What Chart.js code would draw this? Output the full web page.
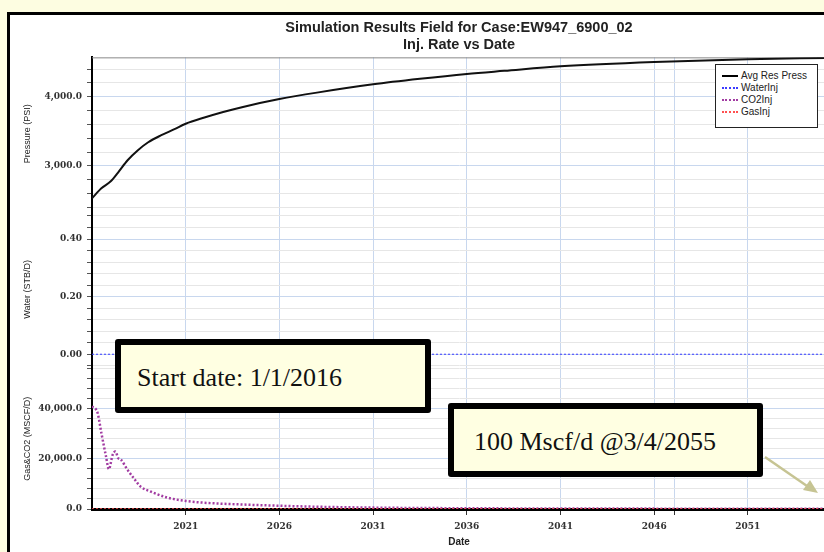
<!DOCTYPE html>
<html>
<head>
<meta charset="utf-8">
<script src="https://cdn.jsdelivr.net/npm/chart.js@4.4.0/dist/chart.umd.min.js"></script>
<style>
  html, body { margin: 0; padding: 0; width: 824px; height: 552px; overflow: hidden; background: #fdfde1; }
  #frame { position: absolute; left: 7px; top: 12px; width: 900px; height: 600px; border: 3px solid #000; background: #fff; }
  #chart { position: absolute; left: 0; top: 0; }
  .note { position: absolute; box-sizing: border-box; border: 6px solid #000; border-radius: 3px;
          background: #ffffe2; font: 26px "Liberation Serif", serif; color: #111; white-space: nowrap; }
  #legend { position: absolute; left: 715px; top: 64px; width: 103px; height: 64px; box-sizing: border-box;
            border: 1.5px solid #222; background: #fff; padding-top: 5px; font: 10px "Liberation Sans", sans-serif; color: #222; }
  #legend div { height: 12px; line-height: 12px; white-space: nowrap; }
  #legend span { display: inline-block; width: 16px; margin: 0 3px 0 6px; vertical-align: middle; }
  #arrow { position: absolute; left: 0; top: 0; }
</style>
</head>
<body>
<div id="frame"></div>
<canvas id="chart" width="826" height="552"></canvas>

<div id="legend">
  <div><span style="border-top:2px solid #000"></span>Avg Res Press</div>
  <div><span style="border-top:2px dotted #3c3cff"></span>WaterInj</div>
  <div><span style="border-top:2px dotted #a23ca2"></span>CO2Inj</div>
  <div><span style="border-top:2px dotted #ff5050"></span>GasInj</div>
</div>

<div class="note" style="left:115px;top:339px;width:316px;height:74px;padding:18px 0 0 16px;">Start date: 1/1/2016</div>
<div class="note" style="left:448px;top:403px;width:315px;height:74px;padding:18px 0 0 20px;">100 Mscf/d @3/4/2055</div>

<svg id="arrow" width="824" height="552">
  <line x1="765" y1="457" x2="807" y2="486" stroke="#c6c493" stroke-width="2.5"/>
  <polygon points="818,493 803,490 810,480" fill="#c6c493"/>
</svg>

<script>
// values (x = decimal year)
const pressYears = [2016.0, 2016.5, 2017.0, 2017.4, 2017.9, 2018.45, 2019.0, 2019.7, 2020.4, 2021.0,
                    2022, 2023, 2024, 2026, 2028, 2031, 2033.5, 2036, 2038, 2041, 2046, 2051, 2055.17];
const avgResPress = [2532, 2677, 2778, 2909, 3083, 3228, 3343, 3445, 3532, 3610,
                     3700, 3780, 3850, 3967, 4060, 4180, 4260, 4330, 4375, 4440, 4503, 4542, 4562];

const co2Years = [2016.0, 2016.3, 2016.5, 2016.75, 2016.9, 2017.1, 2017.25, 2017.4, 2017.55, 2017.9,
                  2018.3, 2018.6, 2019.15, 2020.0, 2021, 2022, 2024, 2026, 2028, 2031, 2036, 2041, 2046, 2051, 2055.17];
const co2Inj = [41000, 38300, 30300, 20900, 15900, 21600, 22900, 20300, 19600, 15600,
                11600, 8900, 6900, 4600, 3200, 2500, 1800, 1300, 900, 550, 300, 200, 150, 110, 100];

const injYears = [2016.0, 2055.17];
const waterInj = [0, 0];
const gasInj = [0, 0];

const yearTicks = [2021, 2026, 2031, 2036, 2041, 2046, 2051];
const markerYear = 2047.1;
const pressureLabels = [3000, 4000];
const waterLabels = [0, 0.2, 0.4];
const gasLabels = [0, 20000, 40000];

function pts(xs, ys) {
  return xs.map(function (x, i) { return { x: x, y: ys[i] }; });
}
function isMajor(v, list) {
  return list.some(function (l) { return Math.abs(l - v) < 1e-6; });
}
function fmt1(v) {
  return v.toLocaleString('en-US', { minimumFractionDigits: 1, maximumFractionDigits: 1 });
}

const blueGrid = '#c8d7ee';
const greyGrid = '#e6e6e6';
const tickFont = { family: 'DejaVu Serif', size: 9, weight: 'bold' };
const titleFont = { family: 'Liberation Sans', size: 9 };

function yAxis(min, max, step, labels, title, weight, fmt) {
  return {
    type: 'linear',
    position: 'left',
    stack: 'panels',
    stackWeight: weight,
    min: min,
    max: max,
    border: { color: '#000', width: 2 },
    grid: {
      color: function (c) { return isMajor(c.tick.value, labels) ? blueGrid : greyGrid; },
      tickColor: '#555',
      tickLength: 5
    },
    afterBuildTicks: function (axis) {
      const t = [];
      for (let v = Math.ceil(min / step - 1e-9) * step; v <= max + 1e-9; v += step) {
        t.push({ value: (Math.round(v * 1000) / 1000) || 0 });
      }
      axis.ticks = t;
    },
    ticks: {
      autoSkip: false,
      padding: 5,
      color: '#333',
      font: tickFont,
      callback: function (v) { return isMajor(v, labels) ? fmt(Math.abs(v) < 1e-9 ? 0 : v) : ''; }
    },
    title: { display: true, text: title, color: '#222', font: titleFont, padding: { top: 22, bottom: 0 } },
    afterFit: function (s) { s.width = 92; }
  };
}

const topLine = {
  id: 'topLine',
  beforeDatasetsDraw: function (chart) {
    const a = chart.chartArea, ctx = chart.ctx;
    ctx.save();
    ctx.strokeStyle = '#888';
    ctx.lineWidth = 1;
    ctx.beginPath();
    ctx.moveTo(a.left, a.top + 0.5);
    ctx.lineTo(a.right, a.top + 0.5);
    ctx.stroke();
    ctx.restore();
  }
};

new Chart(document.getElementById('chart'), {
  type: 'line',
  data: {
    datasets: [
      { label: 'Avg Res Press', data: pts(pressYears, avgResPress), yAxisID: 'yP',
        borderColor: '#111', borderWidth: 2, pointRadius: 0, cubicInterpolationMode: 'monotone' },
      { label: 'WaterInj', data: pts(injYears, waterInj), yAxisID: 'yW',
        borderColor: '#3c3cff', borderWidth: 1, borderDash: [2, 2], pointRadius: 0 },
      { label: 'GasInj', data: pts(injYears, gasInj), yAxisID: 'yG',
        borderColor: '#ff5050', borderWidth: 1.5, borderDash: [2, 2], pointRadius: 0 },
      { label: 'CO2Inj', data: pts(co2Years, co2Inj), yAxisID: 'yG',
        borderColor: '#a23ca2', borderWidth: 2.5, borderDash: [2, 2], pointRadius: 0, cubicInterpolationMode: 'monotone' }
    ]
  },
  options: {
    responsive: false,
    animation: false,
    devicePixelRatio: 1,
    layout: { padding: 0 },
    plugins: {
      legend: { display: false },
      tooltip: { enabled: false },
      title: {
        display: true,
        fullSize: false,
        text: ['Simulation Results Field for Case:EW947_6900_02', 'Inj. Rate vs Date'],
        color: '#222',
        font: { family: 'Liberation Sans', size: 14.5, weight: 'bold', lineHeight: 1.15 },
        padding: { top: 20, bottom: 4 }
      }
    },
    scales: {
      x: {
        type: 'linear',
        min: 2016,
        max: 2055.17,
        border: { color: '#000', width: 3 },
        grid: { color: blueGrid, tickColor: '#333', tickLength: 6 },
        afterBuildTicks: function (axis) {
          axis.ticks = yearTicks.concat([markerYear]).map(function (v) { return { value: v }; });
        },
        ticks: {
          autoSkip: false,
          maxRotation: 0,
          padding: 6,
          color: '#333',
          font: tickFont,
          callback: function (v) { return yearTicks.indexOf(v) >= 0 ? String(v) : ''; }
        },
        title: { display: true, text: 'Date', color: '#222',
                 font: { family: 'Liberation Sans', size: 10, weight: 'bold' }, padding: { top: 0, bottom: 4 } },
        afterFit: function (s) { s.height = 43; }
      },
      yG: yAxis(0, 56000, 4000, gasLabels, 'Gas&CO2 (MSCF/D)', 140, fmt1),
      yW: yAxis(-0.05, 0.5, 0.04, waterLabels, 'Water (STB/D)', 158, function (v) { return v.toFixed(2); }),
      yP: yAxis(2360, 4570, 200, pressureLabels, 'Pressure (PSI)', 152.5, fmt1)
    }
  },
  plugins: [topLine]
});
</script>
</body>
</html>
